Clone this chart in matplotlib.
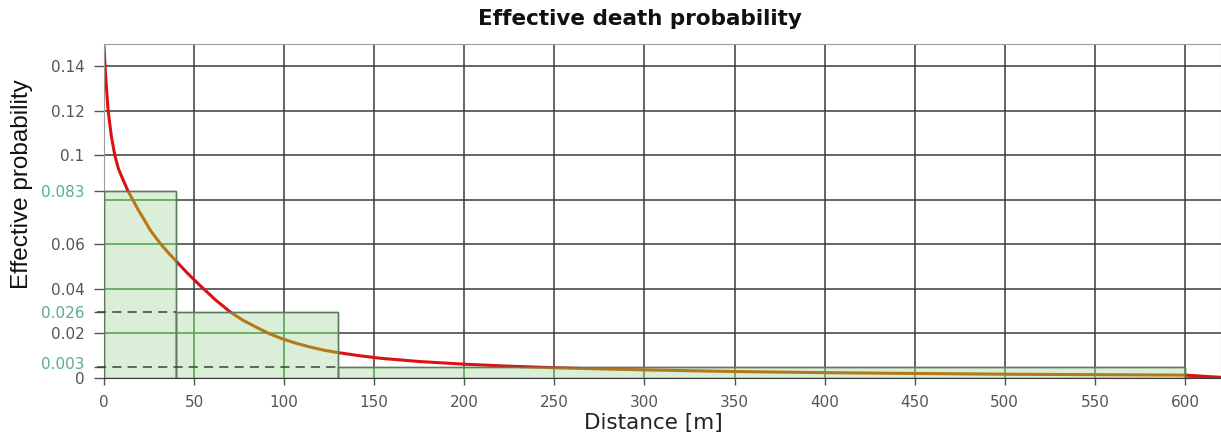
import matplotlib
matplotlib.use("Agg")
import matplotlib.pyplot as plt
import matplotlib.transforms as mtransforms
from matplotlib.patches import Rectangle

# ---- data ----
curve_x = [0, 0.6, 1.3, 2.3, 4, 6, 8, 10.5, 13.3, 16, 19, 22, 26, 31.6, 36, 40, 47, 54,
           62, 70, 77, 85, 92, 99, 107, 115, 122, 130, 141, 153, 175, 200, 225, 250,
           275, 303, 350, 400, 441, 500, 550, 600, 610, 620]
curve_y = [0.149, 0.14, 0.131, 0.12, 0.109, 0.1, 0.094, 0.0892, 0.084, 0.08, 0.0755,
           0.0715, 0.066, 0.06, 0.056, 0.0525, 0.0465, 0.041, 0.035, 0.0297, 0.026,
           0.0226, 0.0198, 0.0176, 0.0155, 0.0138, 0.0125, 0.0114, 0.0101, 0.0089,
           0.0074, 0.0062, 0.0053, 0.0046, 0.0041, 0.0036, 0.0029, 0.0024, 0.0021,
           0.0017, 0.0015, 0.0013, 0.0008, 0.0003]

box_left = [0, 40, 130]
box_right = [40, 130, 600]
box_height = [0.084, 0.0297, 0.005]
box_labels = ["0.083", "0.026", "0.003"]

x_grid = [0, 50, 100, 150, 200, 250, 300, 350, 400, 450, 500, 550, 600]
y_grid = [0, 0.02, 0.04, 0.06, 0.08, 0.1, 0.12, 0.14]
y_tick_vals = [0, 0.02, 0.04, 0.06, 0.1, 0.12, 0.14]
y_tick_labels = ["0", "0.02", "0.04", "0.06", "0.1", "0.12", "0.14"]

title = "Effective death probability"
xlabel = "Distance [m]"
ylabel = "Effective probability"

# ---- styling ----
W, H = 1221, 434
fig = plt.figure(figsize=(W / 100, H / 100), dpi=100)
ax = fig.add_axes([104 / W, 56 / H, (W - 104) / W, (378 - 44) / H])
ax.set_xlim(0, 620)
ax.set_ylim(0, 0.15)

grid_col = "#3a3a3a"
fill_col = "#dbeed7"
green_grid = "#4aa04a"
red = "#dd1111"
brown = "#b5781a"

for gx in x_grid:
    ax.axvline(gx, color=grid_col, lw=1.1, zorder=1)
for gy in y_grid:
    ax.axhline(gy, color=grid_col, lw=1.1, zorder=1)

# red curve
ax.plot(curve_x, curve_y, color=red, lw=2.2, zorder=2)

rects = []
for l, r, h in zip(box_left, box_right, box_height):
    rect = Rectangle((l, 0), r - l, h, facecolor=fill_col, edgecolor="#5d7a5d",
                     lw=1.0, zorder=3)
    ax.add_patch(rect)
    rects.append(rect)

# grid lines and curve seen through the boxes
for rect in rects:
    for gx in x_grid:
        ln = ax.axvline(gx, color=green_grid, lw=1.1, zorder=3.5)
        ln.set_clip_path(rect)
    for gy in y_grid[1:]:
        ln = ax.axhline(gy, color=green_grid, lw=1.1, zorder=3.5)
        ln.set_clip_path(rect)
    (cl,) = ax.plot(curve_x, curve_y, color=brown, lw=2.2, zorder=3.6)
    cl.set_clip_path(rect)
    ax.add_patch(Rectangle(rect.get_xy(), rect.get_width(), rect.get_height(),
                           facecolor="none", edgecolor="#5d7a5d", lw=1.0, zorder=3.7))

# dashed reference lines
for r, h in zip(box_right[:2], box_height[1:]):
    ax.plot([-4, r], [h, h], color="#404040", lw=1.1, ls=(0, (6, 4)), zorder=4,
            clip_on=False)

# ticks
ax.set_xticks(x_grid)
ax.set_xticklabels([str(v) for v in x_grid])
yt = y_tick_vals + box_height
ax.set_yticks(yt)
ax.set_yticklabels(y_tick_labels + box_labels)
ax.tick_params(axis="y", length=7, width=1, color="#555555", pad=7, labelsize=11)
ax.tick_params(axis="x", length=5, width=1, color="#555555", pad=7, labelsize=11)

up = mtransforms.ScaledTranslation(0, 4 / 100, fig.dpi_scale_trans)
for lab, v in zip(ax.get_yticklabels(), yt):
    if v in box_height:
        lab.set_color("#5aae86")
        if v == min(box_height):
            lab.set_transform(lab.get_transform() + up)
    else:
        lab.set_color("#555555")
for lab in ax.get_xticklabels():
    lab.set_color("#555555")

for s in ["left", "top", "right"]:
    ax.spines[s].set_color("#9a9a9a")
ax.spines["bottom"].set_color(grid_col)

fig.text(640 / W, 1 - 19 / H, title, ha="center", va="center", fontsize=15.5,
         fontweight="bold", color="#111111")
fig.text(653 / W, 1 - 423 / H, xlabel, ha="center", va="center", fontsize=15.5,
         color="#222222")
fig.text(22 / W, 1 - 184 / H, ylabel, ha="center", va="center", fontsize=17.5,
         rotation=90, color="#111111", fontfamily="Liberation Sans")

fig.savefig("out.png", dpi=100)
